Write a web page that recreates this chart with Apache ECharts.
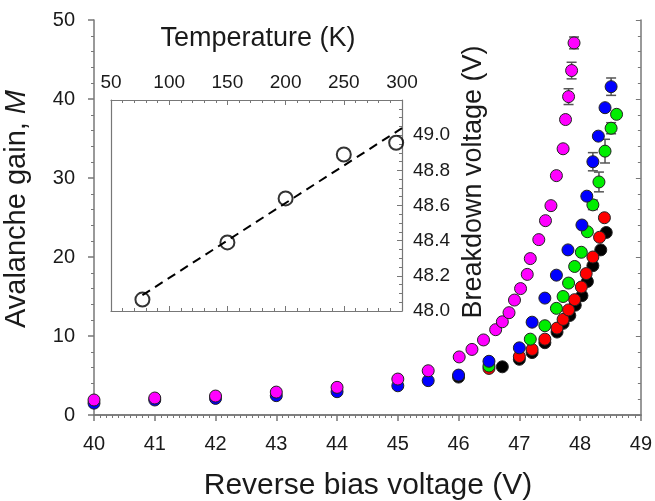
<!DOCTYPE html>
<html>
<head>
<meta charset="utf-8">
<script src="https://cdn.jsdelivr.net/npm/echarts@6/dist/echarts.min.js"></script>
<style>
html,body{margin:0;padding:0;background:#fff}
#chart{width:655px;height:501px}
</style>
</head>
<body>
<div id="chart"></div>
<script>
// main panel: gain vs bias voltage, one series per temperature
var magentaV=[40.0,41.0,42.0,43.0,44.0,45.0,45.5,46.01,46.22,46.41,46.61,46.72,46.83,46.92,47.02,47.13,47.18,47.32,47.43,47.52,47.61,47.72,47.76,47.81,47.86,47.90];
var magentaM=[1.9,2.15,2.4,2.9,3.5,4.55,5.6,7.35,8.3,9.5,10.8,11.8,12.95,14.55,16.0,17.8,19.8,22.2,24.6,26.5,30.3,33.7,37.4,40.3,43.6,47.1];

var blueV=[40.0,41.0,42.0,43.0,44.0,45.0,45.5,46.0,46.5,47.0,47.21,47.42,47.61,47.80,48.03,48.11,48.21,48.30,48.41,48.51];
var blueM=[1.5,1.9,2.1,2.45,2.95,3.7,4.35,5.05,6.8,8.5,11.75,14.8,17.7,20.9,24.05,27.7,32.06,35.3,38.9,41.56];

var greenV=[46.5,47.18,47.42,47.61,47.72,47.81,47.91,48.02,48.12,48.21,48.31,48.41,48.51,48.60];
var greenM=[6.2,9.6,11.3,13.5,15.0,16.7,18.8,20.6,23.2,26.6,29.5,33.4,36.3,38.06];

var redV=[46.5,47.0,47.21,47.42,47.62,47.72,47.81,47.91,48.02,48.10,48.21,48.32,48.40];
var redM=[5.9,7.4,8.3,9.6,11.0,12.1,13.3,14.6,16.2,17.9,20.0,22.5,24.97];

var blackV=[46.0,46.72,47.0,47.21,47.42,47.62,47.72,47.83,47.92,48.03,48.12,48.21,48.34,48.43];
var blackM=[4.8,6.1,7.05,7.9,9.15,10.5,11.6,12.6,13.9,15.1,16.9,18.9,20.9,23.1];

// error bars: voltage, gain, half-height
var errV=[47.81,47.86,47.90,48.21,48.51,48.21,48.31,48.41,48.51];
var errM=[40.3,43.6,47.1,32.06,41.56,26.6,29.5,33.4,36.3];
var errD=[1.0,1.05,0.75,1.15,1.1,0.6,1.25,1.5,0.7];

// inset: breakdown voltage vs temperature
var tempK=[77,150,200,250,295];
var breakdownV=[48.065,48.39,48.64,48.89,48.957];
var fitT=[77,300];
var fitV=[48.09,49.04];

var FONT='"Liberation Sans", Arial, sans-serif';
var AXIS='#777';
var TXT='#1a1a1a';

function pairs(xs,ys){return xs.map(function(x,i){return [x,ys[i]];});}

function dots(name,xs,ys,color){
  return {
    name:name,type:'scatter',xAxisIndex:0,yAxisIndex:0,
    data:pairs(xs,ys),symbol:'circle',symbolSize:12,
    itemStyle:{color:color,borderColor:'#222',borderWidth:1,opacity:1},
    z:3
  };
}

var chart=echarts.init(document.getElementById('chart'));

var option={
  animation:false,
  backgroundColor:'#fff',
  textStyle:{fontFamily:FONT},
  grid:[
    {left:94,top:20,width:547,height:395},
    {left:111,top:100,width:291,height:211}
  ],
  xAxis:[
    {gridIndex:0,type:'value',min:40,max:49,interval:1,position:'bottom',
     axisLine:{lineStyle:{color:AXIS,width:1.5}},
     axisTick:{length:6,lineStyle:{color:AXIS,width:1.5}},
     minorTick:{show:true,splitNumber:10,length:3,lineStyle:{color:AXIS}},
     axisLabel:{fontSize:20,color:TXT,margin:19,fontFamily:FONT},
     splitLine:{show:false}},
    {gridIndex:0,type:'value',min:40,max:49,interval:1,position:'top',
     axisLine:{show:true,lineStyle:{color:AXIS,width:1.5}},
     axisTick:{show:false},axisLabel:{show:false},splitLine:{show:false}},
    {gridIndex:1,type:'value',min:50,max:300,interval:50,position:'top',
     axisLine:{lineStyle:{color:AXIS,width:1.2}},
     axisTick:{inside:true,length:5,lineStyle:{color:AXIS}},
     minorTick:{show:true,splitNumber:5,length:3,lineStyle:{color:AXIS}},
     axisLabel:{fontSize:19,color:TXT,margin:8,fontFamily:FONT},
     splitLine:{show:false}},
    {gridIndex:1,type:'value',min:50,max:300,interval:50,position:'bottom',
     axisLine:{lineStyle:{color:AXIS,width:1.2}},
     axisTick:{inside:true,length:5,lineStyle:{color:AXIS}},
     minorTick:{show:true,splitNumber:5,length:3,lineStyle:{color:AXIS}},
     axisLabel:{show:false},splitLine:{show:false}}
  ],
  yAxis:[
    {gridIndex:0,type:'value',min:0,max:50,interval:10,position:'left',
     axisLine:{show:true,lineStyle:{color:AXIS,width:1.5}},
     axisTick:{show:true,length:6,lineStyle:{color:AXIS,width:1.5}},
     minorTick:{show:true,splitNumber:5,length:3,lineStyle:{color:AXIS}},
     axisLabel:{fontSize:20,color:TXT,margin:19,fontFamily:FONT},
     splitLine:{show:false}},
    {gridIndex:0,type:'value',min:0,max:50,interval:10,position:'right',
     axisLine:{show:true,lineStyle:{color:AXIS,width:1.5}},
     axisTick:{show:true,inside:true,length:5,lineStyle:{color:AXIS}},
     minorTick:{show:true,splitNumber:5,length:3,lineStyle:{color:AXIS}},
     axisLabel:{show:false},splitLine:{show:false}},
    {gridIndex:1,type:'value',min:48.0,max:49.2,interval:0.2,position:'right',
     axisLine:{show:true,lineStyle:{color:AXIS,width:1.2}},
     axisTick:{show:true,inside:true,length:5,lineStyle:{color:AXIS}},
     minorTick:{show:true,splitNumber:4,length:3,lineStyle:{color:AXIS}},
     axisLabel:{fontSize:19,color:TXT,margin:11,fontFamily:FONT,showMaxLabel:false,
       formatter:function(v){return v.toFixed(1);}},
     splitLine:{show:false}},
    {gridIndex:1,type:'value',min:48.0,max:49.2,interval:0.2,position:'left',
     axisLine:{show:true,lineStyle:{color:AXIS,width:1.2}},
     axisTick:{show:false},axisLabel:{show:false},splitLine:{show:false}}
  ],
  series:[
    {
      type:'custom',xAxisIndex:0,yAxisIndex:0,z:2,
      data:errV.map(function(v,i){return [v,errM[i],errD[i]];}),
      encode:{x:0,y:1},
      renderItem:function(params,api){
        var x=api.value(0),y=api.value(1),d=api.value(2);
        var hi=api.coord([x,y+d]),lo=api.coord([x,y-d]);
        var w=5,st={stroke:'#555',lineWidth:1.5};
        return {type:'group',children:[
          {type:'line',shape:{x1:hi[0],y1:hi[1],x2:lo[0],y2:lo[1]},style:st},
          {type:'line',shape:{x1:hi[0]-w,y1:hi[1],x2:hi[0]+w,y2:hi[1]},style:st},
          {type:'line',shape:{x1:lo[0]-w,y1:lo[1],x2:lo[0]+w,y2:lo[1]},style:st}
        ]};
      }
    },
    dots('black',blackV,blackM,'#000000'),
    dots('red',redV,redM,'#ff0000'),
    dots('green',greenV,greenM,'#00ee00'),
    dots('blue',blueV,blueM,'#0000ff'),
    dots('magenta',magentaV,magentaM,'#ff00ff'),
    {
      type:'line',xAxisIndex:2,yAxisIndex:2,data:pairs(fitT,fitV),
      showSymbol:false,symbol:'none',
      lineStyle:{color:'#000',width:2,type:[9,6]},z:3
    },
    {
      type:'scatter',xAxisIndex:2,yAxisIndex:2,data:pairs(tempK,breakdownV),
      symbol:'circle',symbolSize:14,
      itemStyle:{color:'rgba(0,0,0,0)',borderColor:'#000',borderWidth:2},z:4
    }
  ],
  graphic:[
    {type:'text',x:368,y:486,z:10,
     style:{text:'Reverse bias voltage (V)',fontSize:30,fontFamily:FONT,fill:TXT,align:'center',verticalAlign:'middle'}},
    {type:'text',x:17,y:209,rotation:Math.PI/2,z:10,
     style:{text:'Avalanche gain, {i|M}',fontSize:29,fontFamily:FONT,fill:TXT,align:'center',verticalAlign:'middle',
       rich:{i:{fontStyle:'italic',fontSize:29,fontFamily:FONT,fill:TXT}}}},
    {type:'text',x:258,y:39,z:10,
     style:{text:'Temperature (K)',fontSize:27,fontFamily:FONT,fill:TXT,align:'center',verticalAlign:'middle'}},
    {type:'text',x:474,y:182,rotation:Math.PI/2,z:10,
     style:{text:'Breakdown voltage (V)',fontSize:27,fontFamily:FONT,fill:TXT,align:'center',verticalAlign:'middle'}}
  ]
};

chart.setOption(option);
</script>
</body>
</html>
